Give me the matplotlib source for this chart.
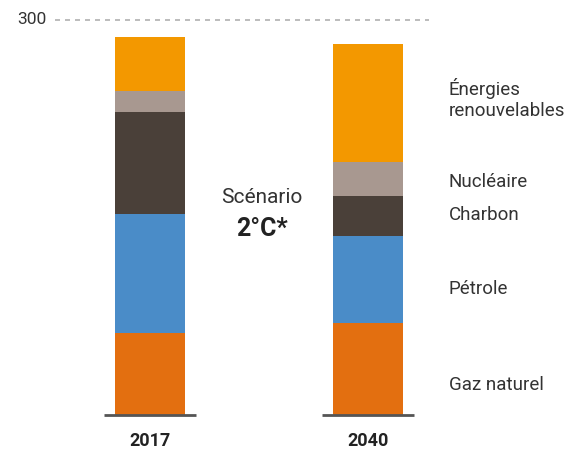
import matplotlib
matplotlib.use('Agg')
import matplotlib.pyplot as plt
import numpy as np

plt.rcParams['font.family'] = ['Roboto', 'DejaVu Sans']

# Data
years = ['2017', '2040']
sources = ['Gaz naturel', 'Pétrole', 'Charbon', 'Nucléaire', 'Énergies\nrenouvelables']
gaz = [62, 70]
petrole = [91, 66]
charbon = [77, 30]
nucleaire = [16, 26]
renouvelables = [41, 90]
label_y = [23, 96, 152, 177, 240]  # vertical position of the side labels
colors = ['#e36f10', '#4a8cc8', '#4a4039', '#a89890', '#f39800']

series = [gaz, petrole, charbon, nucleaire, renouvelables]

fig = plt.figure(figsize=(5.77, 4.54), dpi=100)
ax = fig.add_axes([0, 39 / 454, 1, 395 / 454])

x = np.arange(len(years))
width = 0.317
bottom = np.zeros(len(years))
for vals, c in zip(series, colors):
    ax.bar(x, vals, width, bottom=bottom, color=c, linewidth=0)
    bottom += np.array(vals)

ax.set_xlim(-0.688, 1.959)
ax.set_ylim(0, 300)
ax.axis('off')

# top reference line at 300
ax.plot([-0.435, 1.28], [300, 300], color='#b0b0b0', lw=1.2,
        linestyle=(0, (3, 3)), clip_on=False)
ax.text(-0.475, 300, '300', ha='right', va='center', fontsize=12.5, color='#333333')

# baselines under each bar
for xi in x:
    ax.plot([xi - 0.21, xi + 0.21], [0, 0], color='#555555', lw=2,
            solid_capstyle='butt', clip_on=False)
    ax.text(xi, -20, years[xi], ha='center', va='center', fontsize=13,
            fontweight='bold', color='#222222')

# side labels
for name, yy in zip(sources, label_y):
    ax.text(1.37, yy, name, ha='left', va='center', fontsize=13.5,
            color='#333333', linespacing=1.25)

# scenario text
ax.text(0.514, 165, 'Scénario', ha='center', va='center', fontsize=15, color='#333333')
ax.text(0.514, 141, '2°C*', ha='center', va='center', fontsize=18,
        fontweight='bold', color='#222222')

fig.savefig('out.png', dpi=100)
